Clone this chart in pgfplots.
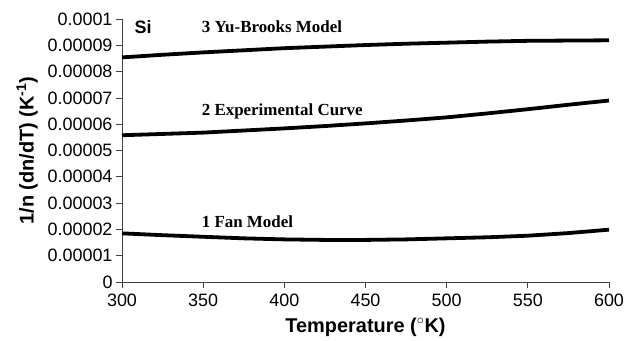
\documentclass[border=0pt]{standalone}
\usepackage{pgfplots}
\pgfplotsset{compat=1.18}
\usepackage{fontspec}
\setmainfont{Liberation Sans}
\newfontfamily\timesfont{Liberation Serif}
\begin{document}
\begin{tikzpicture}
\begin{axis}[
  at={(0,0)}, anchor=south west,
  scale only axis, width=487bp, height=263bp,
  xmin=300, xmax=600, ymin=0, ymax=0.0001,
  xtick={300,350,...,600},
  ytick={0,0.00001,0.00002,0.00003,0.00004,0.00005,0.00006,0.00007,0.00008,0.00009,0.0001},
  scaled y ticks=false,
  yticklabel style={/pgf/number format/fixed,/pgf/number format/precision=5},
  xticklabel style={yshift=-2bp},
  /pgf/number format/assume math mode=true,
  axis lines=left, axis line style={-, black!75, line width=0.8pt},
  tick style={black!75, line width=0.8pt},
  tick align=outside, major tick length=6bp,
  ticklabel style={font=\fontsize{18}{20}\selectfont},
  xlabel={\bfseries Temperature ($^{\circ}$K)},
  ylabel={\bfseries 1/n (dn/dT) (K\textsuperscript{-1})},
  xlabel style={font=\fontsize{20}{22}\selectfont, at={(axis description cs:0.5,-0.171)}, anchor=center},
  ylabel style={font=\fontsize{20}{22}\selectfont, at={(axis description cs:-0.195,0.5)}, anchor=center},
  clip=false,
]
\addplot[black, line width=3.8bp] coordinates {
(300,0.0000854) (325,0.0000864) (350,0.0000873) (375,0.0000881) (400,0.0000889)
(425,0.0000895) (450,0.0000901) (475,0.0000906) (500,0.0000910) (525,0.0000914)
(550,0.0000917) (575,0.0000918) (600,0.0000919)};
\addplot[black, line width=3.8bp] coordinates {
(300,0.0000558) (325,0.0000563) (350,0.0000568) (375,0.0000576) (400,0.0000584)
(425,0.0000593) (450,0.0000603) (475,0.0000614) (500,0.0000626) (525,0.0000641)
(550,0.0000657) (575,0.0000674) (600,0.0000690)};
\addplot[black, line width=3.8bp] coordinates {
(300,0.0000185) (325,0.0000178) (350,0.0000172) (375,0.0000166) (400,0.0000162)
(425,0.0000160) (450,0.0000160) (475,0.0000162) (500,0.0000166) (525,0.0000170)
(550,0.0000176) (575,0.0000186) (600,0.0000199)};
\node[font=\fontsize{18}{20}\selectfont\bfseries] at (axis cs:313,0.0000970) {Si};
\node[font=\fontsize{17}{19}\selectfont\timesfont\bfseries, anchor=west] at (axis cs:347,0.0000970) {3 Yu-Brooks Model};
\node[font=\fontsize{17}{19}\selectfont\timesfont\bfseries, anchor=west] at (axis cs:347,0.0000650) {2 Experimental Curve};
\node[font=\fontsize{17}{19}\selectfont\timesfont\bfseries, anchor=west] at (axis cs:347,0.0000228) {1 Fan Model};
\end{axis}
\pgfresetboundingbox
\useasboundingbox (-122bp,-59bp) rectangle (502bp,282bp);
\end{tikzpicture}
\end{document}
